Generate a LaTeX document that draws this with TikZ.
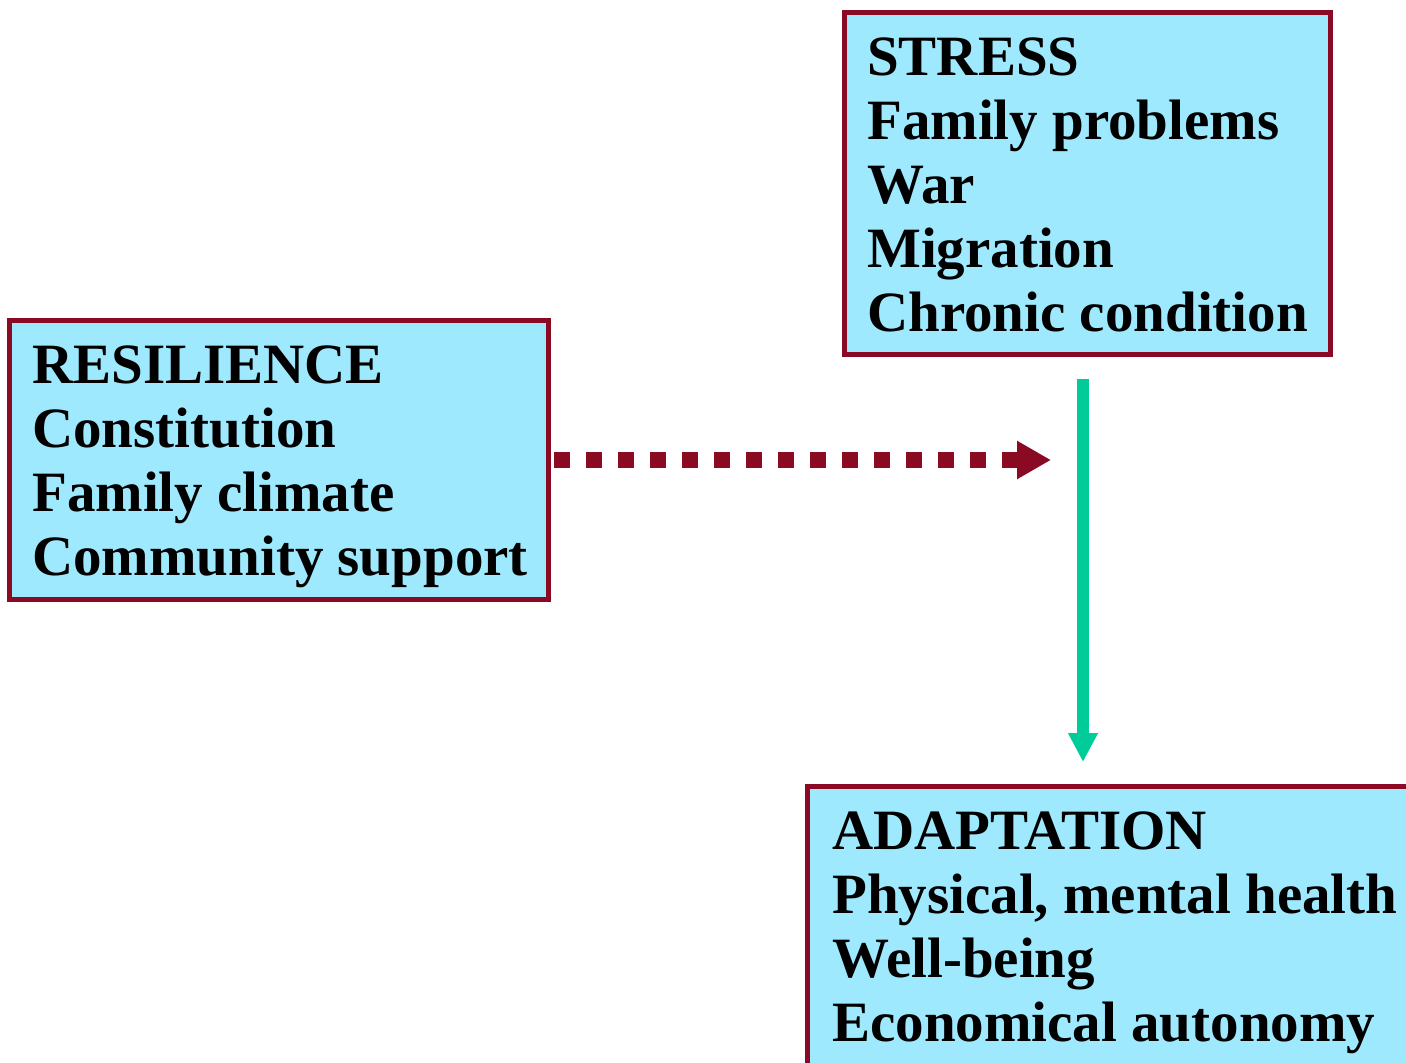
\documentclass[tikz,border=0pt]{standalone}
\usepackage{fontspec}
\setmainfont{Liberation Serif}
\usetikzlibrary{arrows.meta}
\definecolor{boxfill}{RGB}{158,233,253}
\definecolor{boxline}{RGB}{139,10,35}
\definecolor{arrgreen}{RGB}{0,204,153}
\tikzset{
  panel/.style={draw=boxline, fill=boxfill, line width=5pt, inner sep=0pt, rectangle},
  label/.style={anchor=base west, inner sep=0pt, font=\fontsize{57pt}{64pt}\selectfont\bfseries, text=black},
  dotarrow/.style={draw=boxline, line width=16pt, dash pattern=on 16pt off 16pt,
    -{Triangle[length=34pt, width=36pt]}},
  greenarrow/.style={draw=arrgreen, line width=12pt, -{Triangle[length=29pt, width=28pt]}}
}
\begin{document}
\begin{tikzpicture}[x=1pt, y=-1pt]
\useasboundingbox (0,0) rectangle (1406,1063);
\fill[white] (0,0) rectangle (1406,1063);
% boxes
\node[panel, minimum width=486pt, minimum height=342pt] (stress) at (1087.5,183.5) {};
\node[panel, minimum width=539pt, minimum height=279pt] (res) at (279,460) {};
\node[panel, minimum width=620pt, minimum height=301pt] (adapt) at (1117.5,937) {};
% texts
\node[label] (s1) at (867,75) {STRESS};
\node[label] (s2) at (867,139) {Family problems};
\node[label] (s3) at (867,203) {War};
\node[label] (s4) at (867,267) {Migration};
\node[label] (s5) at (867,331) {Chronic condition};
\node[label] (r1) at (32,383) {RESILIENCE};
\node[label] (r2) at (32,447) {Constitution};
\node[label] (r3) at (32,511) {Family climate};
\node[label] (r4) at (32,575) {Community support};
\node[label] (a1) at (832,849) {ADAPTATION};
\node[label] (a2) at (832,913) {Physical, mental health};
\node[label] (a3) at (832,977) {Well-being};
\node[label] (a4) at (832,1041) {Economical autonomy};
% connectors
\coordinate (tipR) at (1051,460);
\draw[dotarrow, shorten <=3pt] (res.east) -- (tipR);
\coordinate (gTop) at ([xshift=-4.5pt]stress.south);
\draw[greenarrow, shorten <=22pt, shorten >=22pt] (gTop) -- (gTop |- adapt.north);
\end{tikzpicture}
\end{document}
